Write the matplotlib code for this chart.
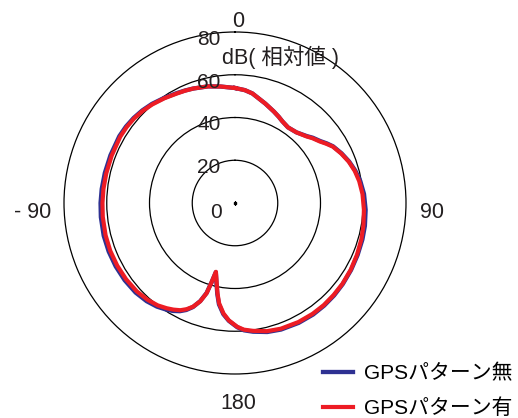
import matplotlib
matplotlib.use("Agg")
import numpy as np
import matplotlib.pyplot as plt

plt.rcParams["font.family"] = ["Liberation Sans", "Noto Sans CJK JP"]

# Radiation pattern, relative level in dB vs. azimuth (degrees, clockwise from top)
angles_deg = [0, 5, 9, 12, 17, 23, 27, 30, 35, 41, 47, 50, 54, 57, 60, 65, 70, 75,
              80, 86, 93, 100, 106, 113, 120, 127, 133, 139, 145, 152, 160, 166,
              172, 176, 179, 183, 186, 189, 191, 193, 195.5, 196.5, 197.5, 199.5,
              202, 204.5, 207, 210, 213, 217, 222, 228, 235, 242, 249, 256, 264,
              270, 276, 283, 291, 300, 305, 310, 315, 320, 326, 332, 336, 340, 347,
              353, 360]

level_with = [53.8, 53.0, 51.9, 50.5, 48.6, 46.5, 45.2, 44.2, 43.2, 43.8, 45.7,
              47.2, 49.0, 50.9, 52.8, 54.8, 56.6, 58.0, 59.0, 59.8, 60.4, 61.0,
              61.5, 62.0, 62.5, 62.9, 63.1, 63.3, 63.3, 63.1, 62.6, 61.8, 60.4,
              59.4, 57.9, 55.0, 51.9, 47.5, 43.0, 38.2, 33.4, 39.0, 44.3, 48.8,
              52.3, 54.6, 56.3, 57.6, 58.7, 60.0, 61.0, 61.8, 62.2, 62.4, 62.5,
              62.4, 62.2, 62.0, 61.9, 61.8, 61.8, 62.0, 61.9, 61.6, 61.0, 60.2,
              59.1, 58.0, 57.5, 57.0, 56.0, 54.9, 53.8]

level_without = [53.8, 53.0, 51.9, 50.5, 48.6, 46.5, 45.2, 44.2, 43.2, 43.8, 45.9,
                 47.5, 49.3, 51.2, 53.0, 55.0, 56.8, 58.3, 59.5, 60.5, 61.2, 61.7,
                 62.0, 62.3, 62.7, 63.1, 63.4, 63.6, 63.7, 63.5, 63.0, 62.2, 60.8,
                 59.7, 58.1, 55.2, 52.3, 48.0, 43.4, 38.5, 33.6, 38.8, 44.1, 48.7,
                 52.5, 55.0, 56.8, 58.3, 59.4, 60.7, 61.8, 62.6, 63.0, 63.2, 63.3,
                 63.3, 63.1, 62.9, 62.7, 62.5, 62.4, 62.5, 62.3, 61.9, 61.3, 60.5,
                 59.3, 58.2, 57.6, 57.0, 56.0, 54.9, 53.8]

series_labels = ["GPSパターン無", "GPSパターン有"]
series_colors = ["#2E3192", "#ED1C24"]

ring_values = [20, 40, 60]
r_max = 80
radial_labels = [0, 20, 40, 60, 80]
angle_ticks = [(0, "0"), (90, "90"), (-90, "- 90"), (180, "180")]
unit_label = "dB( 相対値 )"

W, H = 518, 418
fig = plt.figure(figsize=(W / 100, H / 100), dpi=100)

cx, cy, rad = 235, 203, 171
ax = fig.add_axes([(cx - rad) / W, (H - cy - rad) / H, 2 * rad / W, 2 * rad / H],
                  projection="polar")
ax.set_theta_zero_location("N")
ax.set_theta_direction(-1)
ax.set_ylim(0, r_max)
ax.set_yticks(ring_values)
ax.set_yticklabels([])
ax.set_xticks([])
ax.yaxis.grid(True, color="black", linewidth=0.9, linestyle="-")
ax.xaxis.grid(False)
ax.spines["polar"].set_color("black")
ax.spines["polar"].set_linewidth(0.9)
ax.set_facecolor("none")

theta = np.deg2rad(angles_deg)
l_without, = ax.plot(theta, level_without, color=series_colors[0], lw=3.1,
                     solid_joinstyle="round")
l_with, = ax.plot(theta, level_with, color=series_colors[1], lw=3.0,
                  solid_joinstyle="round")
ax.plot([0], [0], marker="s", ms=1.6, color="black", lw=0)

# Angle labels outside the outer ring
angle_offsets = {0: (3, 5), 90: (26, -15), -90: (-31, -15), 180: (3, -35)}
for deg, txt in angle_ticks:
    ox, oy = angle_offsets[deg]
    ax.annotate(txt, xy=(np.deg2rad(deg), r_max), xytext=(ox, oy),
                textcoords="offset pixels", ha="center", va="baseline",
                fontsize=15.5, color="#231F20", annotation_clip=False)

# Radial level labels just left of the vertical axis
for v in radial_labels:
    if v == 0:
        ox, oy = -19, -15
    else:
        ox, oy = -26, -13
    ax.annotate(str(v), xy=(0, v), xytext=(ox, oy), textcoords="offset pixels",
                ha="center", va="baseline", fontsize=15, color="#231F20",
                annotation_clip=False)

fig.text(280.5 / W, 1 - 64 / H, unit_label, ha="center", va="baseline",
         fontsize=15.5, color="#231F20")

fig.legend([l_without, l_with], series_labels, loc="upper left",
           bbox_to_anchor=(323 / W, 1 - 364 / H), frameon=False, fontsize=15,
           borderpad=0, borderaxespad=0, handlelength=1.44, handletextpad=0.53,
           labelspacing=0.73)

fig.savefig("out.png", dpi=100, facecolor="white")
